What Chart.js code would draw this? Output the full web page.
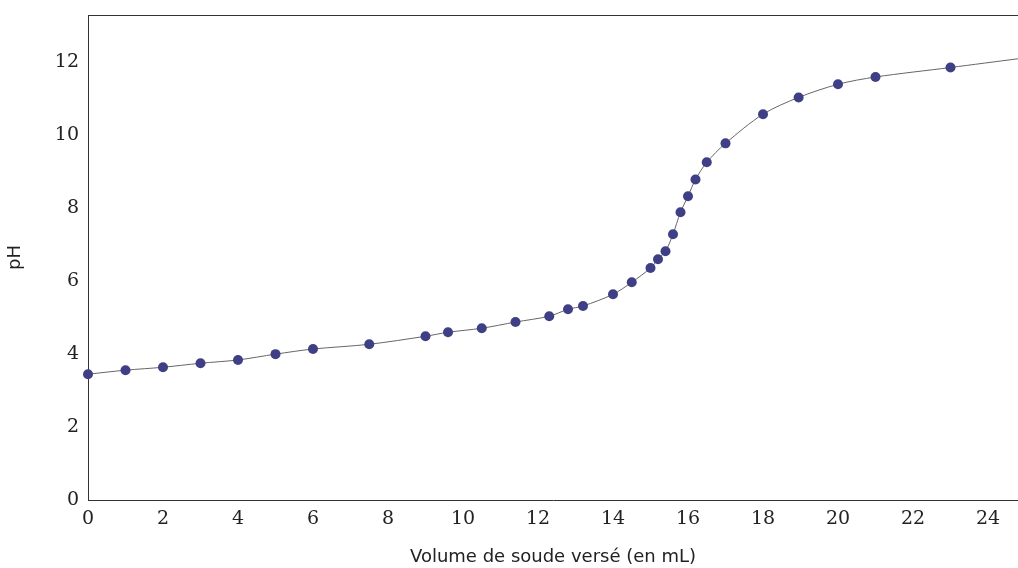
<!DOCTYPE html>
<html><head><meta charset="utf-8">
<script src="https://cdn.jsdelivr.net/npm/chart.js@4/dist/chart.umd.min.js"></script>
<style>html,body{margin:0;padding:0;background:#fff}#wrap{width:1018px;height:568px}</style>
</head><body><div id="wrap"><canvas id="c" width="1018" height="568"></canvas></div>
<script>
const volumes = [0,1,2,3,4,5,6,7.5,9,9.6,10.5,11.4,12.3,12.8,13.2,14,14.5,15,15.2,15.4,15.6,15.8,16,16.2,16.5,17,18,18.95,20,21,23];
const phValues = [3.45,3.56,3.64,3.75,3.84,4.0,4.14,4.27,4.49,4.6,4.71,4.88,5.04,5.23,5.32,5.64,5.97,6.36,6.6,6.82,7.29,7.89,8.33,8.79,9.26,9.78,10.58,11.04,11.4,11.6,11.86];
const curveEndX = [24.8];
const curveEndY = [12.1];
const xTicks = [0,2,4,6,8,10,12,14,16,18,20,22,24];
const yTicks = [0,2,4,6,8,10,12];

const pts = volumes.map((v,i)=>({x:v,y:phValues[i]}));
const curve = pts.concat(curveEndX.map((v,i)=>({x:v,y:curveEndY[i]})));

const topLine = {id:'topLine', afterDraw(ch){const a=ch.chartArea, c=ch.ctx; c.save(); c.strokeStyle='#333'; c.lineWidth=1; c.beginPath(); c.moveTo(a.left,a.top+0.5); c.lineTo(a.right,a.top+0.5); c.stroke(); c.restore();}};

new Chart(document.getElementById('c'),{
  type:'scatter',
  data:{datasets:[
    {data:pts, showLine:false, pointRadius:5, pointHoverRadius:5, pointBackgroundColor:'#3f3f86', pointBorderWidth:0, order:0, clip:false},
    {data:curve, showLine:true, borderColor:'#666', borderWidth:1, pointRadius:0, tension:0.3, order:1}
  ]},
  options:{
    responsive:false, animation:false,
    layout:{autoPadding:false, padding:{top:15,right:0,left:0,bottom:0}},
    plugins:{legend:{display:false},tooltip:{enabled:false}},
    scales:{
      x:{type:'linear',min:0,max:24.8,
        afterBuildTicks:s=>{s.ticks=xTicks.map(v=>({value:v}));},
        afterFit:s=>{s.height=68; s.paddingRight=0; s.paddingLeft=0;},
        grid:{display:false},
        border:{display:true,color:'#333',width:1},
        ticks:{color:'#222',font:{family:'DejaVu Serif',size:19},padding:0,maxRotation:0,autoSkip:false},
        title:{display:true,text:'Volume de soude versé (en mL)',color:'#222',font:{family:'DejaVu Sans',size:18},padding:{top:0,bottom:0}}
      },
      y:{type:'linear',min:0,max:13.3,
        afterBuildTicks:s=>{s.ticks=yTicks.map(v=>({value:v}));},
        afterFit:s=>{s.width=88; s.paddingTop=0; s.paddingBottom=0;},
        grid:{display:false},
        border:{display:true,color:'#333',width:1},
        ticks:{color:'#222',font:{family:'DejaVu Serif',size:19},padding:1,autoSkip:false},
        title:{display:true,text:'pH',color:'#222',font:{family:'DejaVu Sans',size:18},padding:{top:5,bottom:20}}
      }
    }
  },
  plugins:[topLine]
});
</script></body></html>
